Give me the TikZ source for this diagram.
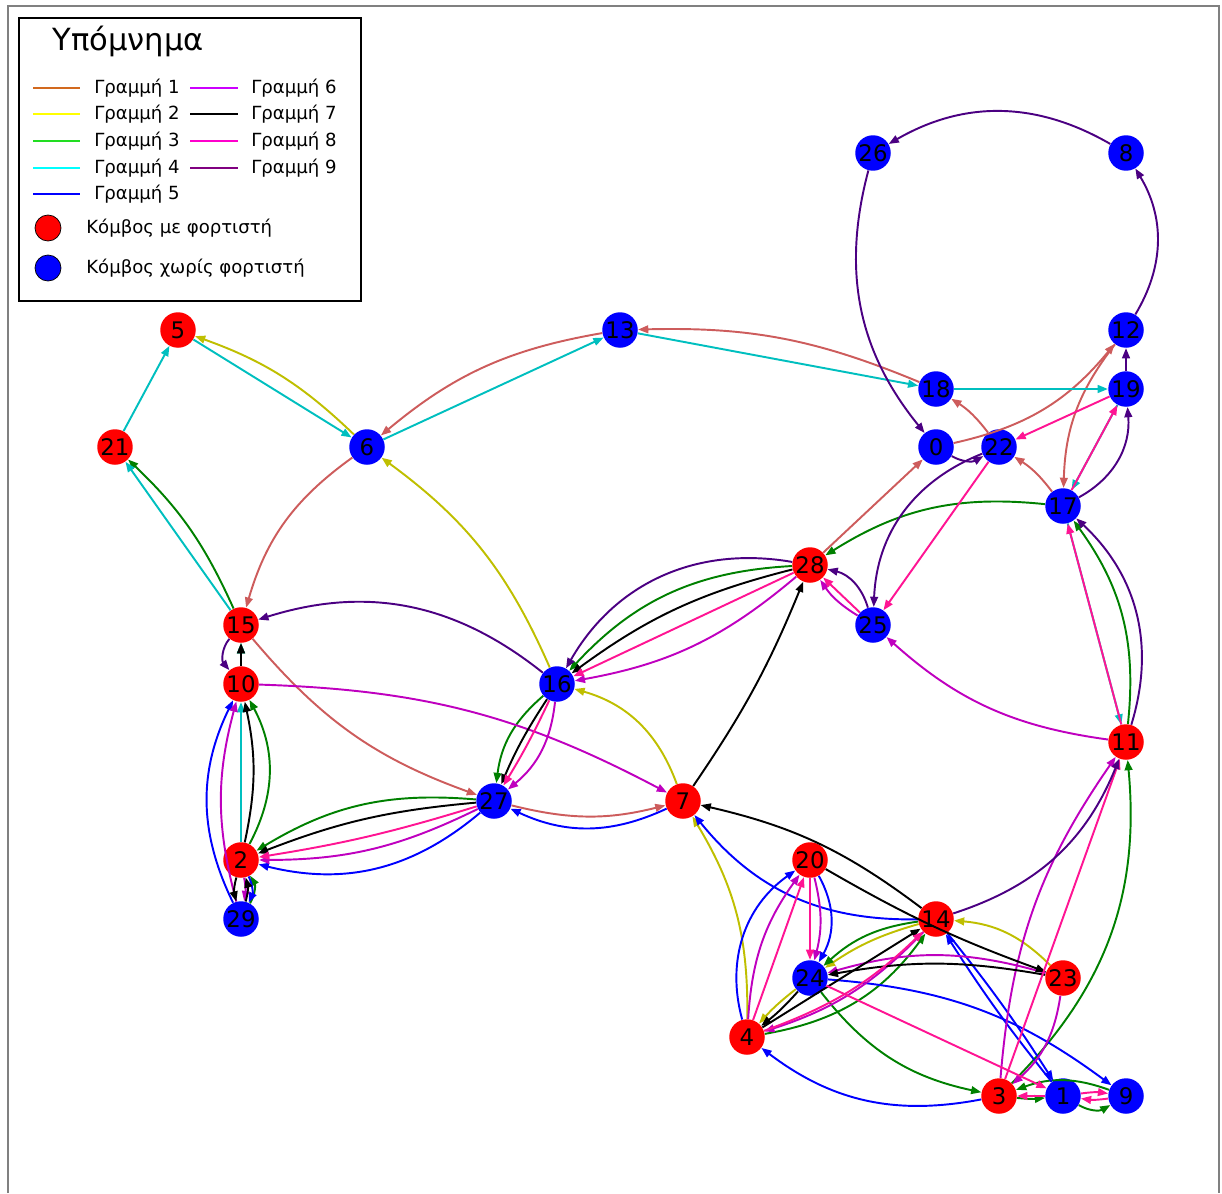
\documentclass[tikz,border=0pt]{standalone}
\usepackage{fontspec}
\setmainfont{DejaVu Sans}
\usetikzlibrary{arrows.meta}

% edge colours of the nine lines
\definecolor{cA}{HTML}{CD5C5C}
\definecolor{cB}{HTML}{BFBF00}
\definecolor{cC}{HTML}{008000}
\definecolor{cD}{HTML}{00BFBF}
\definecolor{cE}{HTML}{0000FF}
\definecolor{cF}{HTML}{BF00BF}
\definecolor{cG}{HTML}{000000}
\definecolor{cH}{HTML}{FF1493}
\definecolor{cI}{HTML}{4B0082}
% legend swatch colours
\definecolor{kA}{HTML}{D2691E}
\definecolor{kB}{HTML}{FFFF00}
\definecolor{kC}{HTML}{22DD22}
\definecolor{kD}{HTML}{00FFFF}
\definecolor{kE}{HTML}{0000FF}
\definecolor{kF}{HTML}{CC00FF}
\definecolor{kG}{HTML}{000000}
\definecolor{kH}{HTML}{FF00CC}
\definecolor{kI}{HTML}{800080}
\definecolor{nred}{HTML}{FF0000}
\definecolor{nblue}{HTML}{0000FF}

\tikzset{
  stn/.style={circle, minimum size=0.71cm, inner sep=0pt, font=\fontsize{13}{14}\selectfont},
  rn/.style={stn, fill=nred},
  bn/.style={stn, fill=nblue},
  edg/.style={line width=1.1pt, -{Triangle[length=5.8pt,width=4.4pt]}},
  ln1/.style={edg, cA}, ln2/.style={edg, cB}, ln3/.style={edg, cC},
  ln4/.style={edg, cD}, ln5/.style={edg, cE}, ln6/.style={edg, cF},
  ln7/.style={edg, cG}, ln8/.style={edg, cH}, ln9/.style={edg, cI},
  legtxt/.style={anchor=west, inner sep=0pt, font=\fontsize{10.3}{12}\selectfont},
  swatch/.style={line width=1.3pt}
}

\begin{document}
\begin{tikzpicture}[x=0.02cm, y=-0.02cm]
\useasboundingbox (0,0) rectangle (1222,1193);

% outer frame
\draw[gray, line width=1pt] (8,1193) -- (8,6) -- (1219,6) -- (1219,1193);

% stations
\node[bn] (n26) at (873,153) {26};
\node[bn] (n8)  at (1126,153) {8};
\node[rn] (n5)  at (178,330) {5};
\node[bn] (n13) at (620,330) {13};
\node[bn] (n12) at (1126,330) {12};
\node[bn] (n18) at (936,389) {18};
\node[bn] (n19) at (1126,389) {19};
\node[rn] (n21) at (115,447) {21};
\node[bn] (n6)  at (367,447) {6};
\node[bn] (n0)  at (936,447) {0};
\node[bn] (n22) at (999,447) {22};
\node[bn] (n17) at (1063,506) {17};
\node[rn] (n28) at (810,565) {28};
\node[rn] (n15) at (241,625) {15};
\node[bn] (n25) at (873,625) {25};
\node[rn] (n10) at (241,684) {10};
\node[bn] (n16) at (557,684) {16};
\node[rn] (n11) at (1126,742) {11};
\node[bn] (n27) at (494,801) {27};
\node[rn] (n7)  at (683,801) {7};
\node[rn] (n2)  at (241,860) {2};
\node[rn] (n20) at (810,860) {20};
\node[bn] (n29) at (241,919) {29};
\node[rn] (n14) at (936,919) {14};
\node[bn] (n24) at (810,978) {24};
\node[rn] (n23) at (1063,978) {23};
\node[rn] (n4)  at (747,1037) {4};
\node[rn] (n3)  at (999,1096) {3};
\node[bn] (n1)  at (1063,1096) {1};
\node[bn] (n9)  at (1126,1096) {9};

% line 1
\draw[ln1] (n28) to (n0);
\draw[ln1] (n0) to[bend right=19] (n12);
\draw[ln1] (n12) to[bend right=18] (n17);
\draw[ln1] (n17) to[bend right=10] (n22);
\draw[ln1] (n22) to[bend right=10] (n18);
\draw[ln1] (n18) to[bend right=12] (n13);
\draw[ln1] (n13) to[bend right=15] (n6);
\draw[ln1] (n6) to[bend right=19] (n15);
\draw[ln1] (n15) to[bend right=15] (n27);
\draw[ln1] (n27) to[bend right=14] (n7);

% line 2
\draw[ln2] (n23) to[bend right=20] (n14);
\draw[ln2] (n14) to[bend right=9] (n24);
\draw[ln2] (n24) to[bend right=5] (n4);
\draw[ln2] (n4) to[bend right=16] (n7);
\draw[ln2] (n7) to[bend right=27] (n16);
\draw[ln2] (n16) to[bend right=15] (n6);
\draw[ln2] (n6) to[bend right=12] (n5);

% line 3
\draw[ln3] (n17) to[bend right=19] (n28);
\draw[ln3] (n28) to[bend right=22] (n16);
\draw[ln3] (n16) to[bend right=21] (n27);
\draw[ln3] (n27) to[bend right=18] (n2);
\draw[ln3] (n2) to[bend right=28] (n10);
\draw[ln3] (n10) to (n15);
\draw[ln3] (n15) to[bend right=11] (n21);
\draw[ln3] (n29) to[bend right=30] (n2);
\draw[ln3] (n11) to[bend right=21] (n17);
\draw[ln3] (n3) to[bend right=25] (n11);
\draw[ln3] (n9) to[bend right=20] (n3);
\draw[ln3] (n3) to[bend right=6] (n1);
\draw[ln3] (n1) to[bend right=30] (n9);
\draw[ln3] (n4) to[bend right=22] (n14);
\draw[ln3] (n14) to[bend right=17] (n24);
\draw[ln3] (n24) to[bend right=20] (n3);

% line 4
\draw[ln4] (n21) to (n5);
\draw[ln4] (n5) to (n6);
\draw[ln4] (n6) to (n13);
\draw[ln4] (n13) to (n18);
\draw[ln4] (n18) to (n19);
\draw[ln4] (n19) to (n17);
\draw[ln4] (n17) to (n11);
\draw[ln4] (n15) to (n21);
\draw[ln4] (n10) to (n15);
\draw[ln4] (n2) to (n10);

% line 5
\draw[ln5] (n7) to[bend left=25] (n27);
\draw[ln5] (n14) to[bend left=26] (n7);
\draw[ln5] (n1) to[bend left=3] (n14);
\draw[ln5] (n14) to[bend left=3] (n1);
\draw[ln5] (n3) to[bend left=24] (n4);
\draw[ln5] (n4) to[bend left=35] (n20);
\draw[ln5] (n20) to[bend left=29] (n24);
\draw[ln5] (n24) to[bend left=16] (n9);
\draw[ln5] (n27) to[bend left=27] (n2);
\draw[ln5] (n29) to[bend left=26] (n10);
\draw[ln5] (n2) to[bend left=25] (n29);

% line 6
\draw[ln6] (n10) to[bend left=13] (n7);
\draw[ln6] (n16) to[bend left=22] (n27);
\draw[ln6] (n27) to[bend left=13] (n2);
\draw[ln6] (n28) to[bend left=15] (n16);
\draw[ln6] (n11) to[bend left=17] (n25);
\draw[ln6] (n29) to[bend left=15] (n10);
\draw[ln6] (n2) to[bend left=10] (n29);
\draw[ln6] (n23) to[bend right=16] (n24);
\draw[ln6] (n23) to[bend left=20] (n3);
\draw[ln6] (n3) to[bend left=15] (n11);
\draw[ln6] (n4) to[bend left=16] (n20);
\draw[ln6] (n20) to[bend left=14] (n24);
\draw[ln6] (n14) to[bend left=14] (n4);
\draw[ln6] (n25) to[bend left=12] (n28);

% line 7
\draw[ln7] (n28) to[bend right=11] (n16);
\draw[ln7] (n7) to[bend right=6] (n28);
\draw[ln7] (n14) to[bend right=12] (n7);
\draw[ln7] (n20) to[bend right=5] (n23);
\draw[ln7] (n23) to[bend right=10] (n24);
\draw[ln7] (n24) to[bend left=5] (n4);
\draw[ln7] (n4) to (n14);
\draw[ln7] (n16) to[bend right=5] (n27);
\draw[ln7] (n27) to[bend right=8] (n2);
\draw[ln7] (n2) to[bend right=12] (n10);
\draw[ln7] (n10) to (n15);
\draw[ln7] (n2) to[bend right=15] (n29);
\draw[ln7] (n29) to[bend right=15] (n2);

% line 8
\draw[ln8] (n28) to (n16);
\draw[ln8] (n16) to[bend left=3] (n27);
\draw[ln8] (n27) to[bend left=4] (n2);
\draw[ln8] (n25) to (n28);
\draw[ln8] (n22) to (n25);
\draw[ln8] (n19) to (n22);
\draw[ln8] (n17) to (n19);
\draw[ln8] (n11) to (n17);
\draw[ln8] (n3) to (n11);
\draw[ln8] (n1) to (n3);
\draw[ln8] (n1) to[bend left=8] (n9);
\draw[ln8] (n9) to[bend left=8] (n1);
\draw[ln8] (n24) to (n1);
\draw[ln8] (n4) to (n20);
\draw[ln8] (n20) to (n24);
\draw[ln8] (n4) to[bend right=12] (n14);

% line 9
\draw[ln9] (n14) to[bend right=25] (n11);
\draw[ln9] (n11) to[bend right=32] (n17);
\draw[ln9] (n17) to[bend right=33] (n19);
\draw[ln9] (n19) to (n12);
\draw[ln9] (n12) to[bend right=31] (n8);
\draw[ln9] (n8) to[bend right=30] (n26);
\draw[ln9] (n26) to[bend right=27] (n0);
\draw[ln9] (n0) to[bend right=30] (n22);
\draw[ln9] (n22) to[bend right=33] (n25);
\draw[ln9] (n25) to[bend right=30] (n28);
\draw[ln9] (n28) to[bend right=35] (n16);
\draw[ln9] (n16) to[bend right=28] (n15);
\draw[ln9] (n15) to[bend right=40] (n10);

% legend
\node[draw=black, line width=1.2pt, fill=white, inner sep=0pt, minimum width=342*0.02cm, minimum height=283*0.02cm, anchor=north west] (leg) at (18,17) {};
\node[anchor=center, inner sep=0pt, font=\fontsize{17.4}{20}\selectfont] (legtitle) at (128,41) {Υπόμνημα};

\draw[swatch, kA] (33,88) -- (80,88);  \node[legtxt] (tA) at (94,88) {Γραμμή 1};
\draw[swatch, kB] (33,114) -- (80,114); \node[legtxt] (tB) at (94,114) {Γραμμή 2};
\draw[swatch, kC] (33,141) -- (80,141); \node[legtxt] (tC) at (94,141) {Γραμμή 3};
\draw[swatch, kD] (33,168) -- (80,168); \node[legtxt] (tD) at (94,168) {Γραμμή 4};
\draw[swatch, kE] (33,194) -- (80,194); \node[legtxt] (tE) at (94,194) {Γραμμή 5};
\draw[swatch, kF] (190,88) -- (238,88);  \node[legtxt] (tF) at (251,88) {Γραμμή 6};
\draw[swatch, kG] (190,114) -- (238,114); \node[legtxt] (tG) at (251,114) {Γραμμή 7};
\draw[swatch, kH] (190,141) -- (238,141); \node[legtxt] (tH) at (251,141) {Γραμμή 8};
\draw[line width=0.8pt, kI] (190,168) -- (238,168); \node[legtxt] (tI) at (251,168) {Γραμμή 9};

\node[circle, draw=black, line width=0.4pt, fill=nred, minimum size=26*0.02cm, inner sep=0pt] (mk1) at (48,228) {};
\node[legtxt] (tk1) at (86,228) {Κόμβος με φορτιστή};
\node[circle, draw=black, line width=0.4pt, fill=nblue, minimum size=26*0.02cm, inner sep=0pt] (mk2) at (48,268) {};
\node[legtxt] (tk2) at (86,268) {Κόμβος χωρίς φορτιστή};
\end{tikzpicture}
\end{document}
